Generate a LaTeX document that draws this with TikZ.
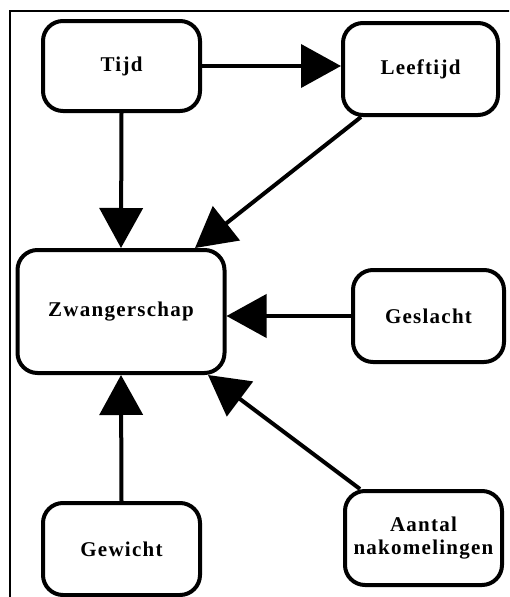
\documentclass[tikz,border=0pt]{standalone}
\usepackage{fontspec}
\setmainfont{Liberation Serif}[LetterSpace=6]
\usetikzlibrary{arrows.meta,calc}
\tikzset{
  box/.style={draw, line width=4pt, rounded corners=20pt, inner sep=0pt, align=center,
    font=\fontsize{21}{23}\selectfont\bfseries},
  conn/.style={line width=4pt, -{Triangle[length=40pt,width=43pt]}},
}
\begin{document}
\begin{tikzpicture}[x=1pt,y=-1pt]
\useasboundingbox (0,0) rectangle (509,597);
\begin{scope}
\clip (0,0) rectangle (509,597);
\draw[line width=1.2pt] (10,605) -- (10,11) -- (520,11);
\node[box, minimum width=157pt, minimum height=90pt] (tijd) at (121.5,66) {Tijd};
\node[box, minimum width=155pt, minimum height=92pt] (leef) at (420.5,69) {Leeftijd};
\node[box, minimum width=207pt, minimum height=123pt] (zw) at (121,311.5) {Zwangerschap};
\node[box, minimum width=151pt, minimum height=92pt] (ges) at (428.5,316) {Geslacht};
\node[box, minimum width=157pt, minimum height=92pt] (gew) at (121.5,549) {Gewicht};
\node[box, minimum width=157pt, minimum height=94pt] (aan) at (423.5,538) {Aantal\\nakomelingen};
\draw[conn] (tijd.east) -- (tijd.east -| leef.west);
\draw[conn] (tijd.south) -- (zw.north);
\draw[conn] ([xshift=20pt]leef.south west) -- ([xshift=74pt]zw.north);
\draw[conn] (ges.west) -- (ges.west -| zw.east);
\draw[conn] (gew.north) -- (zw.south);
\draw[conn] ([xshift=17pt]aan.north west) -- ([xshift=87pt]zw.south);
\end{scope}
\end{tikzpicture}
\end{document}
